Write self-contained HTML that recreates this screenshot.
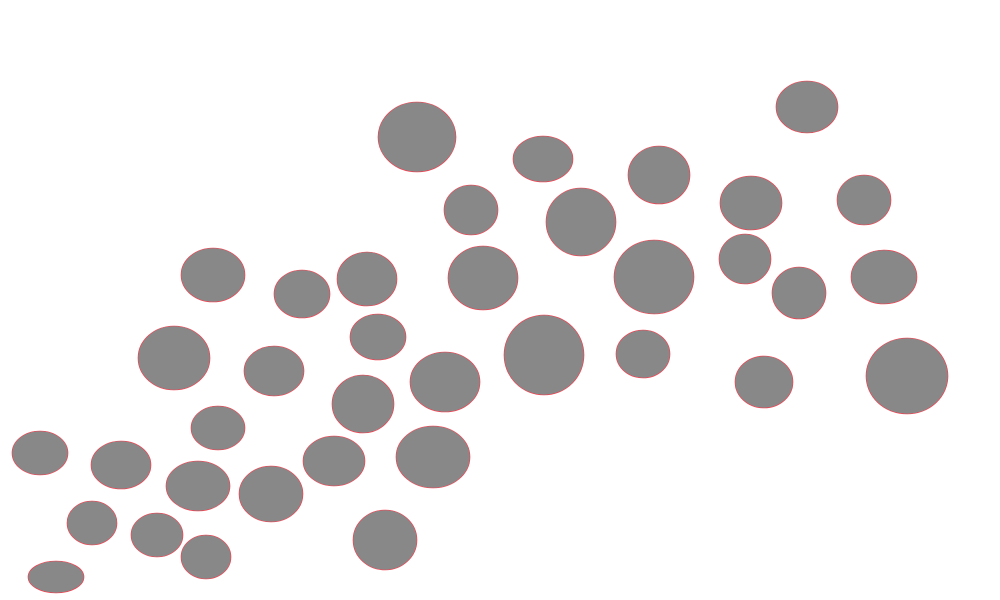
<!DOCTYPE html>
<html>
<head>
<meta charset="utf-8">
<style>
  html, body { margin: 0; padding: 0; background: #ffffff; }
  svg { display: block; }
</style>
</head>
<body>
<svg id="chart" width="1000" height="600" viewBox="0 0 1000 600" xmlns="http://www.w3.org/2000/svg"></svg>
<script>
// Data values (x, y in data units; sizes as horizontal/vertical radii in data units)
const xValues = [41.7,54.3,80.7,65.9,47.1,58.1,75.1,86.4,21.3,30.2,36.7,48.3,65.4,74.5,79.9,88.4,37.8,17.4,27.4,44.5,54.4,64.3,76.4,90.7,36.3,21.8,4.0,12.1,33.4,43.3,19.8,27.1,9.2,15.7,20.6,38.5,5.6];
const yValues = [46.3,44.1,49.3,42.5,39.0,37.8,39.7,40.0,32.5,30.6,32.1,32.2,32.3,34.1,30.7,32.3,26.3,24.2,22.9,21.8,24.5,24.6,21.8,22.4,19.6,17.2,14.7,13.5,13.9,14.3,11.4,10.6,7.7,6.5,4.3,6.0,2.3];
const rxValues = [3.9,3.0,3.1,3.1,2.7,3.5,3.1,2.7,3.2,2.8,3.0,3.5,4.0,2.6,2.7,3.3,2.8,3.6,3.0,3.5,4.0,2.7,2.9,4.1,3.1,2.7,2.8,3.0,3.1,3.7,3.2,3.2,2.5,2.6,2.5,3.2,2.8];
const ryValues = [3.5,2.3,2.6,2.9,2.5,3.4,2.7,2.5,2.7,2.4,2.7,3.2,3.7,2.5,2.6,2.7,2.3,3.2,2.5,3.0,4.0,2.4,2.6,3.8,2.9,2.2,2.2,2.4,2.5,3.1,2.5,2.8,2.2,2.2,2.2,3.0,1.6];

const svg = document.getElementById('chart');
const NS = 'http://www.w3.org/2000/svg';
const xScale = v => v * 10;
const yScale = v => 600 - v * 10;
const lenScale = v => v * 10;

for (let i = 0; i < xValues.length; i++) {
  const e = document.createElementNS(NS, 'ellipse');
  e.setAttribute('cx', xScale(xValues[i]));
  e.setAttribute('cy', yScale(yValues[i]));
  e.setAttribute('rx', lenScale(rxValues[i]));
  e.setAttribute('ry', lenScale(ryValues[i]));
  e.setAttribute('fill', '#888888');
  e.setAttribute('stroke', '#ff3344');
  e.setAttribute('stroke-width', '0.6');
  
  
  svg.appendChild(e);
}
</script>
</body>
</html>
